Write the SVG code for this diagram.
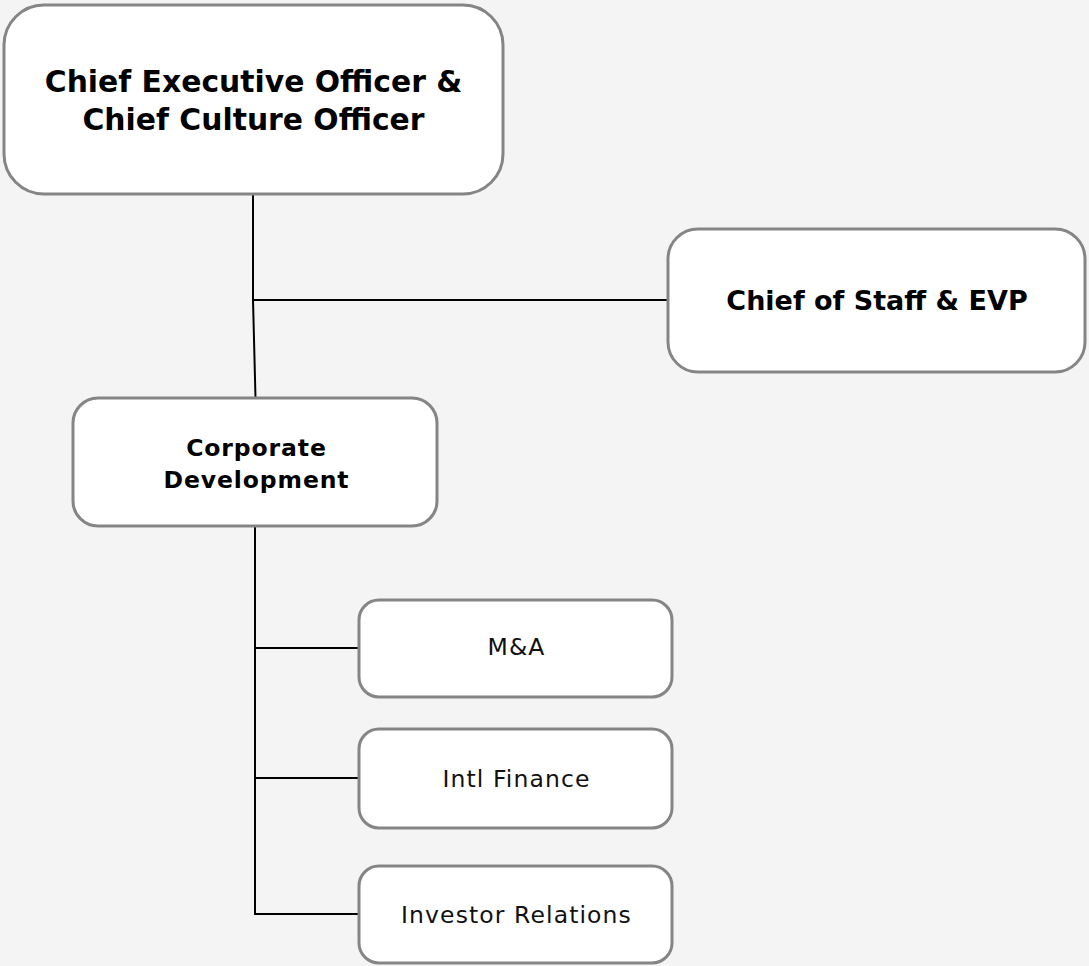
<svg xmlns="http://www.w3.org/2000/svg" width="1089" height="966" viewBox="0 0 1089 966">
<style>
.box{fill:#ffffff;stroke:#858585;stroke-width:3}
.ln{stroke:#000000;stroke-width:2;fill:none}
.b{font-family:"DejaVu Sans",sans-serif;font-weight:bold;fill:#000000;text-anchor:middle}
.r{font-family:"DejaVu Sans",sans-serif;fill:#111111;text-anchor:middle;font-size:23.5px;letter-spacing:1.1px}
</style>
<rect width="1089" height="966" fill="#f4f4f4"/>
<g id="connectors">
<path class="ln" d="M253,194 V300 L255.5,398"/>
<path class="ln" d="M253,300 H668"/>
<path class="ln" d="M255,527 V914 H359"/>
<path class="ln" d="M255,648 H359"/>
<path class="ln" d="M255,778 H359"/>
</g>
<g id="ceo">
<rect class="box" x="4" y="5" width="499" height="189" rx="40"/>
<text class="b" x="253.5" y="92" font-size="29.8">Chief Executive Officer &amp;</text>
<text class="b" x="253.5" y="130" font-size="29.8">Chief Culture Officer</text>
</g>
<g id="cos">
<rect class="box" x="668" y="229" width="417" height="143" rx="30"/>
<text class="b" x="877" y="310" font-size="27">Chief of Staff &amp; EVP</text>
</g>
<g id="corpdev">
<rect class="box" x="73" y="398" width="364" height="128" rx="25"/>
<text class="b" x="256.5" y="456" font-size="23.5" letter-spacing="0.9">Corporate</text>
<text class="b" x="256.5" y="488" font-size="23.5" letter-spacing="0.9">Development</text>
</g>
<g id="ma">
<rect class="box" x="359" y="600" width="313" height="97" rx="20"/>
<text class="r" x="516.5" y="655">M&amp;A</text>
</g>
<g id="intl">
<rect class="box" x="359" y="729" width="313" height="99" rx="20"/>
<text class="r" x="516.5" y="787">Intl Finance</text>
</g>
<g id="ir">
<rect class="box" x="359" y="866" width="313" height="97" rx="20"/>
<text class="r" x="516.5" y="923">Investor Relations</text>
</g>
</svg>
